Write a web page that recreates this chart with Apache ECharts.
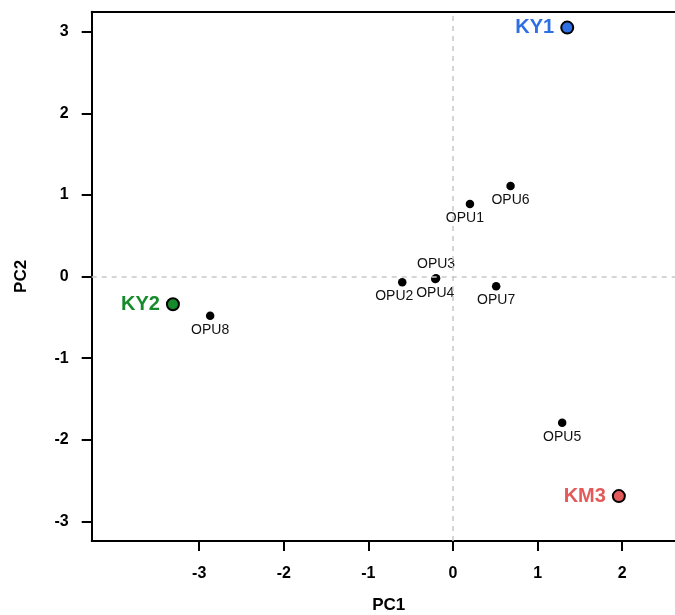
<!DOCTYPE html>
<html>
<head>
<meta charset="utf-8">
<script src="https://cdn.jsdelivr.net/npm/echarts@6/dist/echarts.min.js"></script>
<style>html,body{margin:0;padding:0;background:#fff;}#c{width:675px;height:615px;}</style>
</head>
<body>
<div id="c"></div>
<script>
// ---- data ----
const opuNames = ['OPU1','OPU2','OPU3','OPU4','OPU5','OPU6','OPU7','OPU8'];
const opuPC1   = [0.20, -0.60, -0.20, -0.21, 1.29, 0.68, 0.51, -2.87];
const opuPC2   = [0.89, -0.07, -0.02, -0.03, -1.79, 1.11, -0.12, -0.48];
const refNames = ['KY1','KY2','KM3'];
const refPC1   = [1.35, -3.31, 1.96];
const refPC2   = [3.05, -0.34, -2.69];
const xTicks = [-3,-2,-1,0,1,2];
const yTicks = [-3,-2,-1,0,1,2,3];

// ---- styling (not data) ----
const refColors = {KY1:'#2f6fe4', KY2:'#178a2c', KM3:'#e35a5a'};
const opuLabelTweaks = {OPU1:{offset:[-5,0]}, OPU2:{offset:[-8,0]}, OPU3:{position:'top'}};
const FONT = 'Liberation Sans, Arial, Helvetica, sans-serif';

const opuData = opuNames.map((n,i)=>{
  const t = opuLabelTweaks[n] || {};
  const lab = {};
  if (t.position) lab.position = t.position;
  if (t.offset) lab.offset = t.offset;
  return {name:n, value:[opuPC1[i], opuPC2[i]], label: lab};
});
const refData = refNames.map((n,i)=>({
  name:n, value:[refPC1[i], refPC2[i]],
  itemStyle:{color:refColors[n]},
  label:{color:refColors[n]}
}));

const axisLineStyle = {show:true, onZero:false, lineStyle:{color:'#000', width:2}};

const chart = echarts.init(document.getElementById('c'), null, {renderer:'canvas'});
chart.setOption({
  animation:false,
  backgroundColor:'#fff',
  textStyle:{fontFamily:FONT},
  grid:{left:91.7, top:11.7, width:594, height:529.3, show:false,
        containLabel:false, outerBoundsMode:'none'},
  xAxis:[{
    type:'value', min:-4.27, max:2.75, position:'bottom',
    name:'PC1', nameLocation:'middle', nameGap:56,
    nameTextStyle:{fontSize:17, fontWeight:'bold', color:'#000', fontFamily:FONT},
    axisLine:axisLineStyle, splitLine:{show:false},
    axisTick:{show:true, customValues:xTicks, length:10, inside:false, lineStyle:{color:'#000', width:2}},
    axisLabel:{customValues:xTicks, fontSize:16, fontWeight:'bold', color:'#000', margin:25, fontFamily:FONT}
  },{
    type:'value', min:-4.27, max:2.75, position:'top',
    axisLine:axisLineStyle, splitLine:{show:false},
    axisTick:{show:false}, axisLabel:{show:false}
  }],
  yAxis:{
    type:'value', min:-3.24, max:3.245,
    name:'PC2', nameLocation:'middle', nameGap:62, nameRotate:90,
    nameTextStyle:{fontSize:17, fontWeight:'bold', color:'#000', fontFamily:FONT},
    axisLine:axisLineStyle, splitLine:{show:false},
    axisTick:{show:true, customValues:yTicks, length:10, inside:false, lineStyle:{color:'#000', width:2}},
    axisLabel:{customValues:yTicks, fontSize:16, fontWeight:'bold', color:'#000', margin:23, fontFamily:FONT}
  },
  series:[
    {
      type:'scatter', data:opuData, symbol:'circle', symbolSize:8.5,
      itemStyle:{color:'#000', opacity:1},
      label:{show:true, formatter:'{b}', position:'bottom', distance:3, fontSize:14, color:'#111', fontFamily:FONT},
      markLine:{
        silent:true, symbol:'none', label:{show:false},
        lineStyle:{color:'#c8c8c8', type:[5,5], width:1.5},
        data:[{xAxis:0},{yAxis:0}]
      },
      z:3
    },
    {
      type:'scatter', data:refData, symbol:'circle', symbolSize:12,
      itemStyle:{borderColor:'#000', borderWidth:2, opacity:1},
      label:{show:true, formatter:'{b}', position:'left', distance:6, fontSize:20, fontWeight:'bold', fontFamily:FONT},
      z:4
    }
  ]
});
</script>
</body>
</html>
